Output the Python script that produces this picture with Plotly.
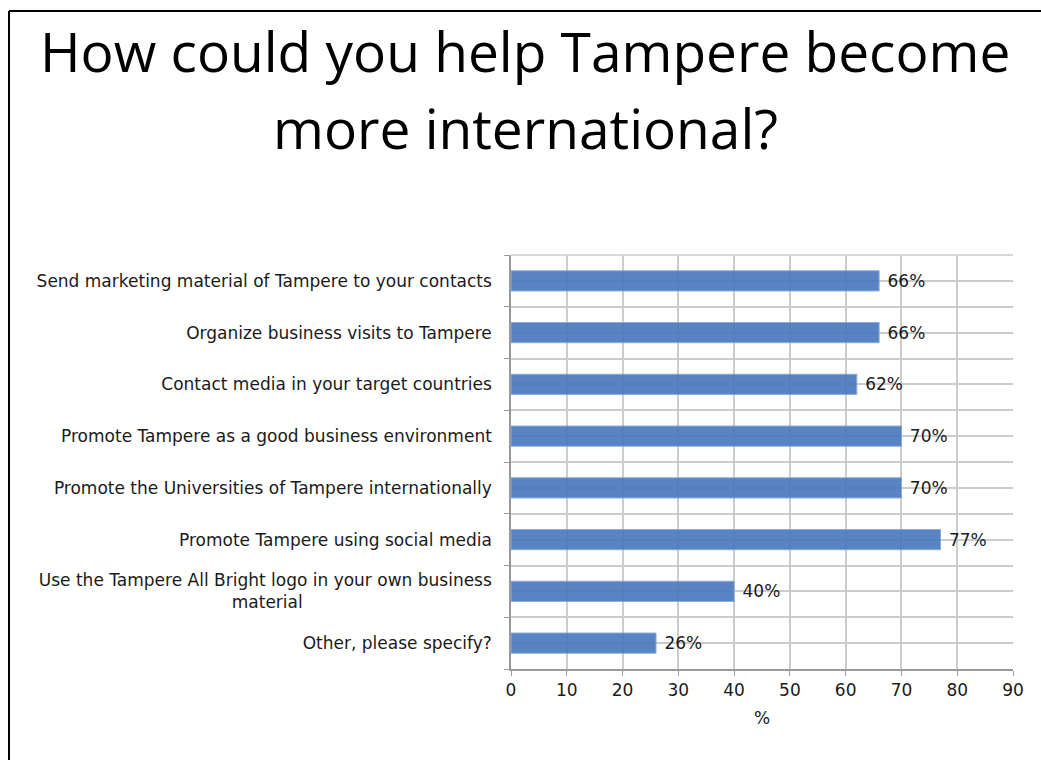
import plotly.graph_objects as go

# Survey answers (share of respondents, %)
categories = [
    "Send marketing material of Tampere to your contacts",
    "Organize business visits to Tampere",
    "Contact media in your target countries",
    "Promote Tampere as a good business environment",
    "Promote the Universities of Tampere internationally",
    "Promote Tampere using social media",
    "Use the Tampere All Bright logo in your own business<br>material"
    + "\u00a0" * 35,
    "Other, please specify?",
]
values = [66, 66, 62, 70, 70, 77, 40, 26]
x_ticks = [0, 10, 20, 30, 40, 50, 60, 70, 80, 90]

W, H = 1041, 760
L, R, T, B = 511, 28, 255, 91
PW, PH = W - L - R, H - T - B


def px_x(px):
    return (px - L) / PW


def px_y(py):
    return (H - B - py) / PH


positions = list(range(len(categories)))
label_font = dict(family="DejaVu Sans", size=17, color="#1a1a1a")

fig = go.Figure(
    go.Bar(
        x=values,
        y=positions,
        orientation="h",
        width=0.39,
        marker=dict(color="#4677bd", opacity=0.9,
                    line=dict(color="#7ea3d6", width=1)),
        text=[f"{v}%" for v in values],
        texttemplate=" %{text}",
        textposition="outside",
        textfont=label_font,
        cliponaxis=False,
        hoverinfo="skip",
    )
)

fig.update_xaxes(
    range=[0, 90],
    tickvals=x_ticks,
    ticks="outside",
    ticklen=5,
    tickcolor="#999999",
    tickfont=label_font,
    showgrid=True,
    gridcolor="#cccccc",
    gridwidth=1.5,
    showline=True,
    linecolor="#999999",
    linewidth=1.5,
    mirror=False,
    zeroline=False,
    title=dict(text="%", font=label_font, standoff=13),
)

fig.update_yaxes(
    range=[len(categories) - 0.5, -0.5],
    tickvals=positions,
    ticktext=categories,
    ticks="",
    tickfont=label_font,
    showgrid=True,
    gridcolor="#cccccc",
    gridwidth=1.5,
    showline=True,
    linecolor="#999999",
    linewidth=1.5,
    zeroline=False,
    ticklabelstandoff=14,
    minor=dict(
        tickvals=[p - 0.5 for p in positions] + [len(categories) - 0.5],
        ticks="outside",
        ticklen=5,
        tickcolor="#999999",
        showgrid=True,
        gridcolor="#cccccc",
        gridwidth=1.5,
    ),
)

# top border of the plotting area
fig.add_shape(type="line", xref="paper", yref="paper",
              x0=0, x1=1, y0=1, y1=1,
              line=dict(color="#cccccc", width=1.5))

# slide frame: top and left edges
fig.add_shape(type="line", xref="paper", yref="paper",
              x0=px_x(9), x1=px_x(W + 5), y0=px_y(11), y1=px_y(11),
              line=dict(color="black", width=2))
fig.add_shape(type="line", xref="paper", yref="paper",
              x0=px_x(9), x1=px_x(9), y0=px_y(11), y1=px_y(H + 5),
              line=dict(color="black", width=2))

title_font = dict(family="Open Sans", size=55, color="black")
fig.add_annotation(text="How could you help Tampere become",
                   xref="paper", yref="paper", x=px_x(525), y=px_y(50),
                   xanchor="center", yanchor="middle", showarrow=False,
                   font=title_font)
fig.add_annotation(text="more international?",
                   xref="paper", yref="paper", x=px_x(525), y=px_y(128),
                   xanchor="center", yanchor="middle", showarrow=False,
                   font=title_font)

fig.update_layout(
    width=W,
    height=H,
    margin=dict(l=L, r=R, t=T, b=B),
    paper_bgcolor="white",
    plot_bgcolor="white",
    showlegend=False,
    bargap=0.6,
)

fig.write_html("out.html")
